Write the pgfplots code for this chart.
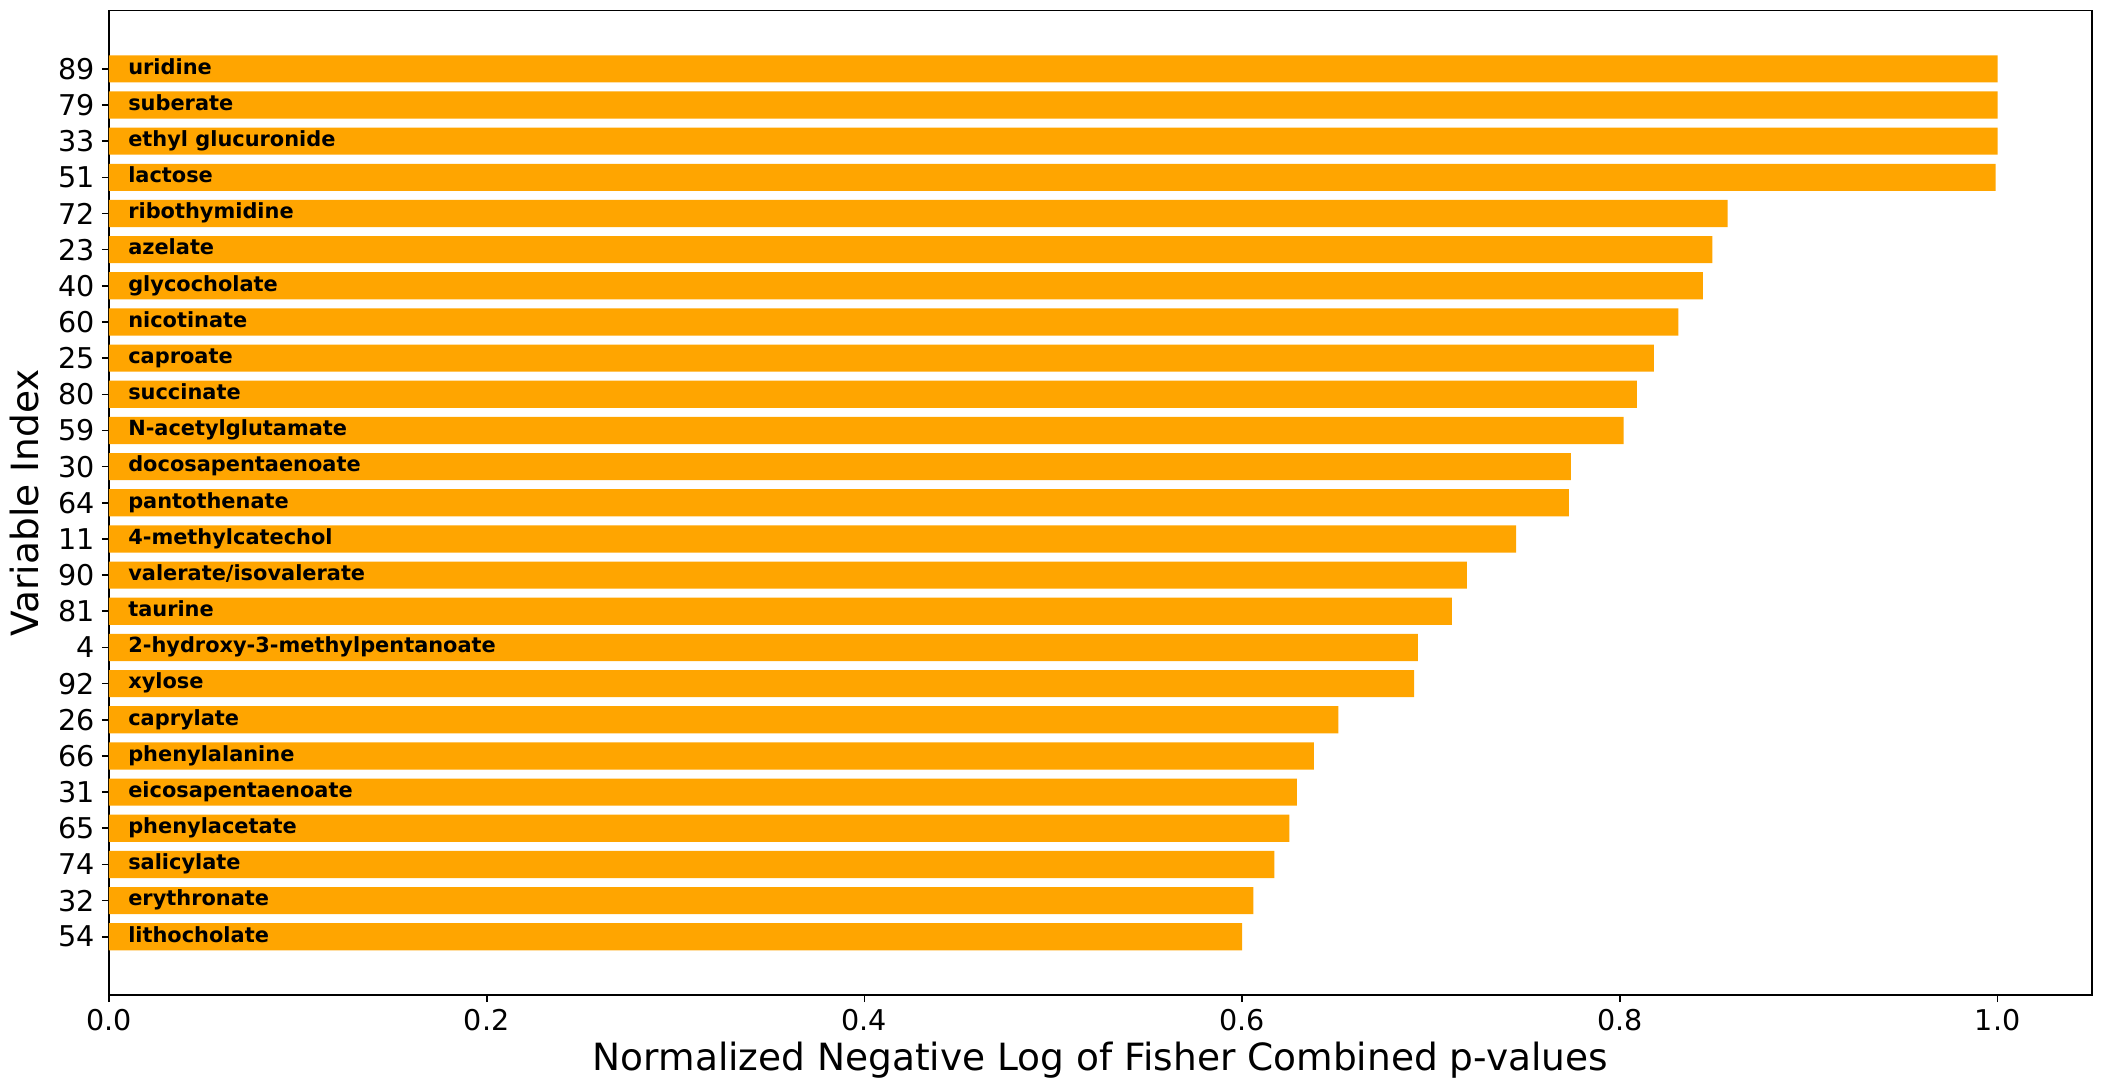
\documentclass[border=0pt]{standalone}
\usepackage{pgfplots}
\pgfplotsset{compat=1.18}
\usepackage{pgfplotstable}
\usepackage{fontspec}
\setmainfont{DejaVu Sans}
\definecolor{barorange}{HTML}{FFA500}

\pgfplotstableread[col sep=comma]{
pos,val,name
24,1.000,uridine
23,1.000,suberate
22,1.000,ethyl glucuronide
21,0.999,lactose
20,0.857,ribothymidine
19,0.849,azelate
18,0.844,glycocholate
17,0.831,nicotinate
16,0.818,caproate
15,0.809,succinate
14,0.802,N-acetylglutamate
13,0.774,docosapentaenoate
12,0.773,pantothenate
11,0.745,4-methylcatechol
10,0.719,valerate/isovalerate
9,0.711,taurine
8,0.693,2-hydroxy-3-methylpentanoate
7,0.691,xylose
6,0.651,caprylate
5,0.638,phenylalanine
4,0.629,eicosapentaenoate
3,0.625,phenylacetate
2,0.617,salicylate
1,0.606,erythronate
0,0.600,lithocholate
}\data

\begin{document}
\begin{tikzpicture}
\path[use as bounding box] (0,0) rectangle (1052pt,543.5pt);
\begin{axis}[
  at={(54.5pt,46pt)}, anchor=south west,
  scale only axis, width=991.5pt, height=492.2pt,
  xmin=0, xmax=1.05, ymin=-1.61, ymax=25.61,
  ytick={0,...,24},
  yticklabels={54,32,74,65,31,66,26,92,4,81,90,11,64,30,59,80,25,60,40,23,72,51,33,79,89},
  xtick={0,0.2,0.4,0.6,0.8,1.0},
  xticklabels={0.0,0.2,0.4,0.6,0.8,1.0},
  tick pos=left, tick align=outside,
  major tick length=3.5pt,
  every tick/.style={black, line width=0.8pt},
  axis line style={black, line width=0.8pt},
  ticklabel style={font=\fontsize{14.3}{16}\selectfont},
  xlabel={Normalized Negative Log of Fisher Combined p-values},
  ylabel={Variable Index},
  label style={font=\fontsize{18.75}{22}\selectfont},
  xlabel style={at={(axis description cs:0.5,-0.0762)}, anchor=base},
  ylabel style={at={(axis description cs:-0.0358,0.5)}, anchor=base, rotate=0},
]
\addplot[xbar, bar width=0.75, fill=barorange, draw=none] table[x=val, y=pos] {\data};
\addplot[draw=none, mark=none, nodes near coords, point meta=explicit symbolic,
  nodes near coords align=horizontal,
  every node near coord/.append style={inner sep=0pt, anchor=west, text=black,
    font=\bfseries\fontsize{10.45}{12}\selectfont, text height=0.76em, text depth=0.236em}]
  table[x expr=0.01, y=pos, meta=name] {\data};
\end{axis}
\end{tikzpicture}
\end{document}
